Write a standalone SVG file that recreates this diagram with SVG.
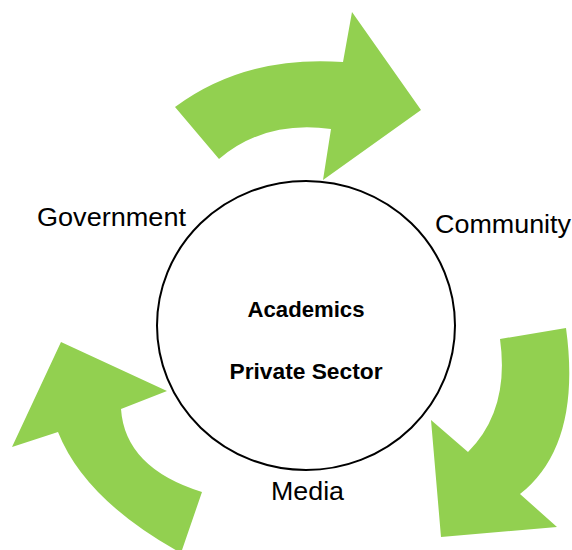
<svg xmlns="http://www.w3.org/2000/svg" width="572" height="550" viewBox="0 0 572 550">
  <defs>
    <style>
      .arrow { fill: #92D050; stroke: none; }
      .hub { fill: #FFFFFF; stroke: #000000; stroke-width: 2; }
      .label { font-family: "Liberation Sans", Arial, sans-serif; font-size: 25px; fill: #000000; }
      .inner { font-family: "Liberation Sans", Arial, sans-serif; font-size: 22px; font-weight: bold; fill: #000000; text-anchor: middle; }
    </style>
  </defs>
  <rect width="572" height="550" fill="#FFFFFF"/>

  <!-- curved cycle arrows -->
  <g id="connectors">
    <path id="arrow-top" class="arrow" d="M175,107 Q245,55 343,62 L352,12 L421,110 L323,180 L331,129 Q265,120 219,159 Z"/>
    <path id="arrow-right" class="arrow" d="M566,328 Q582,445 520,494 L557,527 L441,537 L431,420 L468,452 Q510,410 500,339 Z"/>
    <path id="arrow-left" class="arrow" d="M181,553 Q85,500 58,432 L12,447 L61,342 L167,391 L121,409 Q125,468 202,492 Z"/>
  </g>

  <g id="hub">
    <ellipse class="hub" cx="306" cy="325.5" rx="149" ry="144.5"/>
    <text class="inner" x="306" y="317" textLength="117" lengthAdjust="spacingAndGlyphs">Academics</text>
    <text class="inner" x="306" y="379" textLength="153" lengthAdjust="spacingAndGlyphs">Private Sector</text>
  </g>

  <g id="government">
    <text class="label" x="37" y="226" textLength="149" lengthAdjust="spacingAndGlyphs">Government</text>
  </g>
  <g id="community">
    <text class="label" x="435" y="233" textLength="136" lengthAdjust="spacingAndGlyphs">Community</text>
  </g>
  <g id="media">
    <text class="label" x="271" y="500" textLength="73" lengthAdjust="spacingAndGlyphs">Media</text>
  </g>
</svg>
